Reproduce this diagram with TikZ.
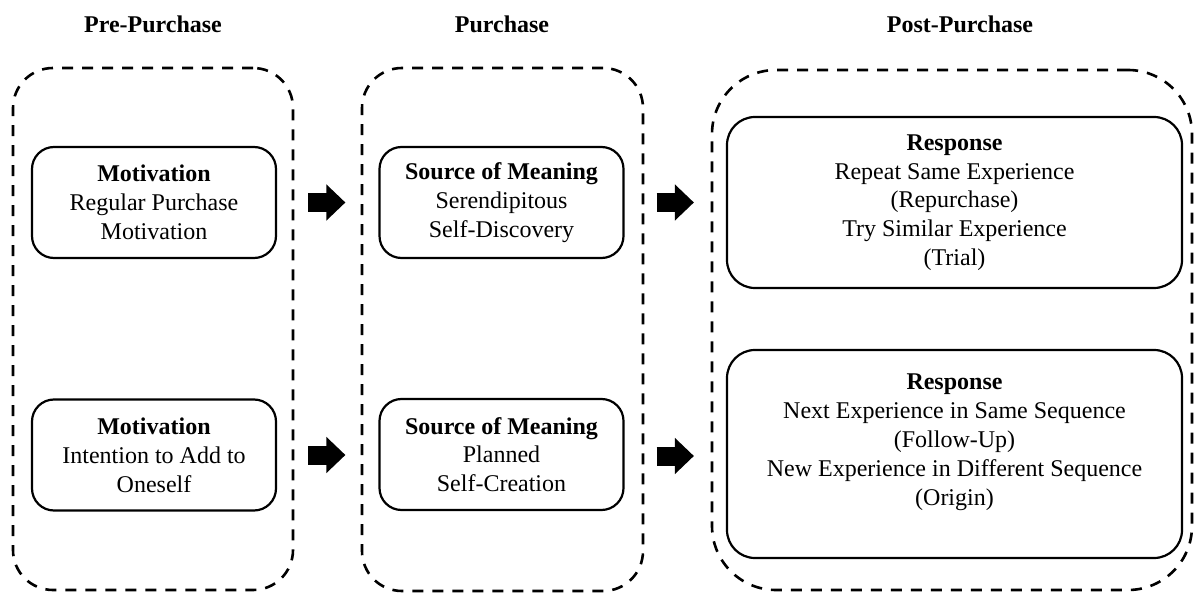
\documentclass[tikz,border=0pt]{standalone}
\usepackage{fontspec}
\setmainfont{Liberation Serif}
\usetikzlibrary{arrows.meta,calc}

\tikzset{
  phase/.style={draw, line width=2.6pt, dash pattern=on 11pt off 9pt,
    rounded corners=#1, inner sep=0pt},
  phase/.default=40pt,
  stagebox/.style={draw, line width=2.2pt, rounded corners=22pt, align=center,
    inner sep=0pt, minimum width=244pt, minimum height=111pt,
    font=\fontsize{24}{28.8}\selectfont},
  responsebox/.style={stagebox, rounded corners=28pt, minimum width=455pt},
  header/.style={anchor=base, font=\fontsize{24}{28.8}\selectfont\bfseries},
  blockarrow/.style={line width=19pt,
    -{Triangle[length=19pt,width=35pt]}},
}

\begin{document}
\begin{tikzpicture}[x=1pt,y=-1pt]
\useasboundingbox (0,0) rectangle (1194,593);

% phase frames
\node[phase, minimum width=280pt, minimum height=522pt] (pre)  at (153,329) {};
\node[phase, minimum width=281pt, minimum height=523pt] (pur)  at (502.5,329.5) {};
\node[phase=64pt, minimum width=480pt, minimum height=520pt] (post) at (952,330) {};

% phase titles
\node[header] (tpre)  at (153,32.5) {Pre-Purchase};
\node[header] (tpur)  at (502,32.5) {Purchase};
\node[header] (tpost) at (960,32.5) {Post-Purchase};

% pre-purchase
\node[stagebox] (m1) at (154,202.5) {\textbf{Motivation}\\Regular Purchase\\Motivation};
\node[stagebox] (m2) at (154,455) {\textbf{Motivation}\\Intention to Add to\\Oneself};

% purchase
\node[stagebox] (s1) at (501.5,202.5) {\textbf{Source of Meaning}\\Serendipitous\\Self-Discovery};
\node[stagebox] (s2) at (501.5,454.5) {\textbf{Source of Meaning}\\Planned\\Self-Creation};

% post-purchase
\node[responsebox, minimum height=171pt] (r1) at (954.5,202.5)
  {\textbf{Response}\\Repeat Same Experience\\(Repurchase)\\Try Similar Experience\\(Trial)};
\node[responsebox, minimum height=208pt] (r2) at (954.5,454)
  {\textbf{Response}\\Next Experience in Same Sequence\\(Follow-Up)\\New Experience in Different Sequence\\(Origin)\\\mbox{}};

% block arrows between stages
\draw[blockarrow] ([xshift=31pt]m1.east) -- ([xshift=-33pt]m1.east -| s1.west);
\draw[blockarrow] ([xshift=31pt]m2.east) -- ([xshift=-33pt]m2.east -| s2.west);
\draw[blockarrow] ([xshift=32pt]s1.east) -- ([xshift=-32pt]s1.east -| r1.west);
\draw[blockarrow] ([xshift=32pt,yshift=-1.5pt]s2.east) -- ([xshift=-32pt,yshift=-1.5pt]s2.east -| r2.west);
\end{tikzpicture}
\end{document}
